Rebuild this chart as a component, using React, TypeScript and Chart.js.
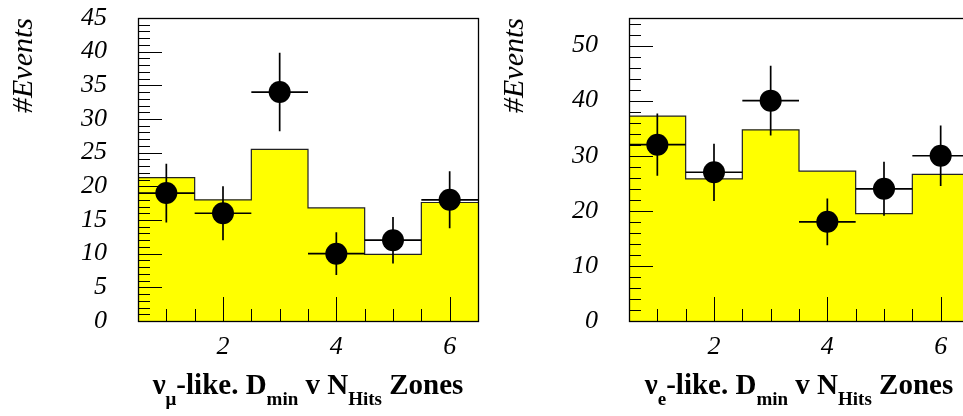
import React, { useEffect, useRef } from 'react';
import { Chart, registerables } from 'chart.js';

Chart.register(...registerables);

// ---- data ----
const binCenters = [1, 2, 3, 4, 5, 6];
const xTickLabels = [2, 4, 6];

const muMC = [21.3, 18.0, 25.5, 16.8, 9.9, 17.6];
const muData = [19, 16, 34, 10, 12, 18];
const muYTicks = [0, 5, 10, 15, 20, 25, 30, 35, 40, 45];

const eMC = [37.2, 25.8, 34.7, 27.2, 19.5, 26.6];
const eData = [32, 27, 40, 18, 24, 30];
const eYTicks = [0, 10, 20, 30, 40, 50];

type Seg = { t: string; sub?: boolean };
const muTitle: Seg[] = [
  { t: 'ν' }, { t: 'μ', sub: true }, { t: '-like. D' }, { t: 'min', sub: true },
  { t: ' v N' }, { t: 'Hits', sub: true }, { t: ' Zones' },
];
const eTitle: Seg[] = [
  { t: 'ν' }, { t: 'e', sub: true }, { t: '-like. D' }, { t: 'min', sub: true },
  { t: ' v N' }, { t: 'Hits', sub: true }, { t: ' Zones' },
];
const yTitle = '#Events';

const FONT = '"Liberation Serif", "Times New Roman", serif';

interface PanelCfg {
  mc: number[];
  data: number[];
  yTicks: number[];
  yMax: number;
  yMinorStep: number;
  title: Seg[];
  canvasLeft: number;
  canvasWidth: number;
  areaLeft: number;
  padRight: number;
}

function makeDecor(cfg: PanelCfg) {
  return {
    id: 'decor',
    beforeDatasetDraw(chart: any, args: any) {
      if (args.index !== 1) return;
      const ctx: CanvasRenderingContext2D = chart.ctx;
      const a = chart.chartArea;
      const xs = chart.scales.x;
      const ys = chart.scales.y;
      ctx.save();
      ctx.strokeStyle = '#000';
      ctx.lineWidth = 1;
      ctx.beginPath();
      // y ticks
      for (let v = 0; v <= cfg.yMax + 1e-9; v += cfg.yMinorStep) {
        const y = Math.round(ys.getPixelForValue(v)) + 0.5;
        const major = cfg.yTicks.some((t) => Math.abs(t - v) < 1e-6);
        const len = major ? 24 : 12;
        ctx.moveTo(a.left, y);
        ctx.lineTo(a.left + len, y);
      }
      // x ticks
      for (let v = 1; v <= 6 + 1e-9; v += 0.5) {
        const x = Math.round(xs.getPixelForValue(v)) + 0.5;
        const major = xTickLabels.some((t) => Math.abs(t - v) < 1e-6);
        const len = major ? 24 : 12;
        ctx.moveTo(x, a.bottom);
        ctx.lineTo(x, a.bottom - len);
      }
      ctx.stroke();
      // frame
      ctx.strokeStyle = '#000';
      ctx.lineWidth = 1.3;
      ctx.strokeRect(a.left + 0.5, a.top + 0.5, a.right - a.left, a.bottom - a.top);
      // error bars
      ctx.lineWidth = 1.7;
      ctx.beginPath();
      binCenters.forEach((c, i) => {
        const n = cfg.data[i];
        const e = Math.sqrt(n);
        const x = xs.getPixelForValue(c);
        const y = ys.getPixelForValue(n);
        ctx.moveTo(xs.getPixelForValue(c - 0.5), y);
        ctx.lineTo(xs.getPixelForValue(c + 0.5), y);
        ctx.moveTo(x, ys.getPixelForValue(n + e));
        ctx.lineTo(x, ys.getPixelForValue(n - e));
      });
      ctx.stroke();
      ctx.restore();
    },
    afterDraw(chart: any) {
      const ctx: CanvasRenderingContext2D = chart.ctx;
      const a = chart.chartArea;
      ctx.save();
      ctx.fillStyle = '#000';
      // y title
      ctx.translate(a.left - 106.5, a.top);
      ctx.rotate(-Math.PI / 2);
      ctx.font = `italic 30px ${FONT}`;
      ctx.textAlign = 'right';
      ctx.textBaseline = 'alphabetic';
      ctx.fillText(yTitle, 0, 0);
      ctx.restore();

      // x title with subscripts
      ctx.save();
      ctx.fillStyle = '#000';
      ctx.textAlign = 'left';
      ctx.textBaseline = 'alphabetic';
      const mainFont = `bold 29px ${FONT}`;
      const subFont = `bold 19px ${FONT}`;
      let total = 0;
      cfg.title.forEach((s) => {
        ctx.font = s.sub ? subFont : mainFont;
        total += ctx.measureText(s.t).width;
      });
      let x = (a.left + a.right) / 2 - total / 2;
      const base = 393.5;
      cfg.title.forEach((s) => {
        ctx.font = s.sub ? subFont : mainFont;
        ctx.fillText(s.t, x, s.sub ? base + 11 : base);
        x += ctx.measureText(s.t).width;
      });
      ctx.restore();
    },
  };
}

const zeroPad = (s: any) => {
  s.paddingTop = 0;
  s.paddingBottom = 0;
  s.paddingLeft = 0;
  s.paddingRight = 0;
};

function Panel({ cfg }: { cfg: PanelCfg }) {
  const ref = useRef<HTMLCanvasElement>(null);
  useEffect(() => {
    const edges = binCenters.map((c) => c - 0.5).concat([binCenters[binCenters.length - 1] + 0.5]);
    const histPts = edges.map((x, i) => ({ x, y: cfg.mc[Math.min(i, cfg.mc.length - 1)] }));
    const dataPts = binCenters.map((x, i) => ({ x, y: cfg.data[i] }));
    const tickFont = { family: FONT, size: 26, style: 'italic' as const };
    const chart = new Chart(ref.current!, {
      type: 'line',
      data: {
        datasets: [
          {
            type: 'line',
            data: histPts,
            stepped: true,
            fill: 'origin',
            backgroundColor: '#ffff00',
            borderColor: '#222',
            borderWidth: 1.2,
            pointRadius: 0,
            order: 2,
          },
          {
            type: 'scatter',
            data: dataPts,
            showLine: false,
            pointRadius: 11,
            pointBackgroundColor: '#000',
            pointBorderWidth: 0,
            backgroundColor: '#000',
            borderColor: '#000',
            order: 1,
          },
        ],
      } as any,
      options: {
        responsive: false,
        animation: false,
        devicePixelRatio: 1,
        events: [],
        layout: { autoPadding: false, padding: { top: 18, right: cfg.padRight, left: 0, bottom: 0 } },
        plugins: { legend: { display: false }, tooltip: { enabled: false } },
        scales: {
          x: {
            type: 'linear',
            min: 0.5,
            max: 6.5,
            afterBuildTicks: (s: any) => {
              s.ticks = xTickLabels.map((v) => ({ value: v }));
            },
            afterFit: (s: any) => {
              s.height = 95;
              zeroPad(s);
            },
            grid: { display: false, drawTicks: false },
            border: { display: false },
            ticks: {
              font: tickFont,
              color: '#000',
              padding: 11,
              maxRotation: 0,
              autoSkip: false,
              callback: (v: any) => String(v),
            },
          },
          y: {
            type: 'linear',
            min: 0,
            max: cfg.yMax,
            afterBuildTicks: (s: any) => {
              s.ticks = cfg.yTicks.map((v) => ({ value: v }));
            },
            afterFit: (s: any) => {
              s.width = cfg.areaLeft;
              zeroPad(s);
            },
            grid: { display: false, drawTicks: false },
            border: { display: false },
            ticks: {
              font: tickFont,
              color: '#000',
              padding: 31,
              autoSkip: false,
              callback: (v: any) => String(v),
            },
          },
        },
      } as any,
      plugins: [makeDecor(cfg)],
    });
    return () => chart.destroy();
  }, []);
  return (
    <canvas
      ref={ref}
      width={cfg.canvasWidth}
      height={416}
      style={{ position: 'absolute', left: cfg.canvasLeft, top: 0, width: cfg.canvasWidth, height: 416, display: 'block' }}
    />
  );
}

const leftCfg: PanelCfg = {
  mc: muMC,
  data: muData,
  yTicks: muYTicks,
  yMax: 45,
  yMinorStep: 1,
  title: muTitle,
  canvasLeft: 0,
  canvasWidth: 480,
  areaLeft: 138,
  padRight: 2,
};

const rightCfg: PanelCfg = {
  mc: eMC,
  data: eData,
  yTicks: eYTicks,
  yMax: 55,
  yMinorStep: 2,
  title: eTitle,
  canvasLeft: 480,
  canvasWidth: 500,
  areaLeft: 149,
  padRight: 11,
};

export default function App() {
  return (
    <div
      style={{
        position: 'fixed',
        left: 0,
        top: 0,
        width: 963,
        height: 416,
        overflow: 'hidden',
        background: '#fff',
      }}
    >
      <Panel cfg={leftCfg} />
      <Panel cfg={rightCfg} />
    </div>
  );
}
